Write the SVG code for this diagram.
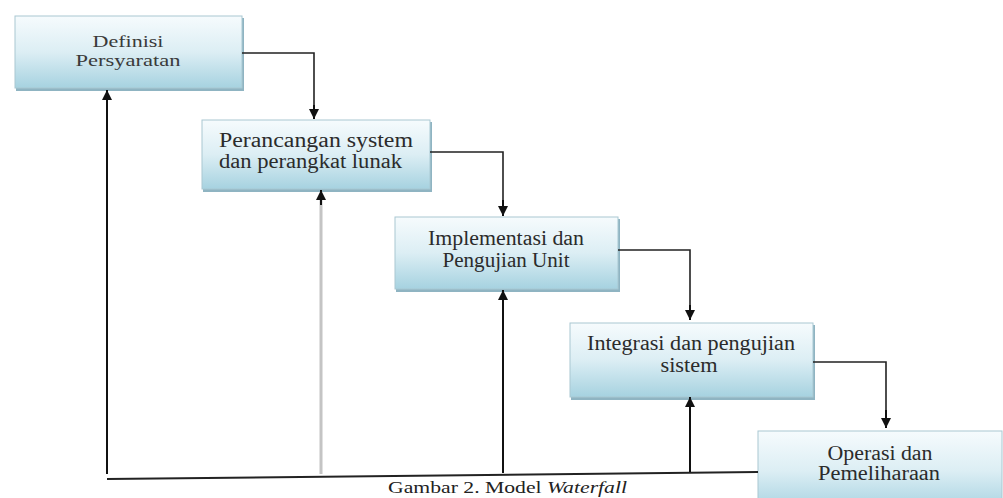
<svg xmlns="http://www.w3.org/2000/svg" width="1003" height="498" viewBox="0 0 1003 498">
<defs>
<linearGradient id="g" x1="0" y1="0" x2="0" y2="1">
<stop offset="0" stop-color="#f6fbfd"/>
<stop offset="0.5" stop-color="#dceef4"/>
<stop offset="1" stop-color="#a6d2e0"/>
</linearGradient>
<marker id="ah" viewBox="0 0 10 10" refX="10" refY="5" markerWidth="10" markerHeight="10" markerUnits="userSpaceOnUse" orient="auto">
<path d="M0,0 L10,5 L0,10 z" fill="#111"/>
</marker>
<style>
.box{fill:url(#g);stroke:#a9c8d2;stroke-width:1}
.sh{fill:#8fb4c2}
.t{font-family:"Liberation Serif","Times New Roman",serif;font-size:20px;fill:#2b2b2b}
.s{font-size:17px;fill:#3a3a3a}
.c{text-anchor:middle}
.ln{fill:none;stroke:#222;stroke-width:1.6}
.ar{fill:none;stroke:#111;stroke-width:2;marker-end:url(#ah)}
</style>
</defs>
<rect width="1003" height="498" fill="#fff"/>
<g id="n1">
<rect class="sh" x="16" y="18" width="228" height="73"/>
<rect class="box" x="15" y="16" width="227" height="72"/>
<text class="t s c" x="128" y="47" textLength="71" lengthAdjust="spacingAndGlyphs">Definisi</text>
<text class="t s c" x="128" y="66" textLength="105" lengthAdjust="spacingAndGlyphs">Persyaratan</text>
</g>
<g id="n2">
<rect class="sh" x="203" y="122" width="229" height="70"/>
<rect class="box" x="202" y="120" width="228" height="69"/>
<text class="t" x="219" y="147" textLength="194" lengthAdjust="spacingAndGlyphs">Perancangan system</text>
<text class="t" x="219" y="168" textLength="183" lengthAdjust="spacingAndGlyphs">dan perangkat lunak</text>
</g>
<g id="n3">
<rect class="sh" x="396" y="219" width="224" height="73"/>
<rect class="box" x="395" y="217" width="223" height="72"/>
<text class="t c" x="506" y="245" textLength="156" lengthAdjust="spacingAndGlyphs">Implementasi dan</text>
<text class="t c" x="506" y="267" textLength="127" lengthAdjust="spacingAndGlyphs">Pengujian Unit</text>
</g>
<g id="n4">
<rect class="sh" x="571" y="325" width="244" height="75"/>
<rect class="box" x="570" y="323" width="243" height="74"/>
<text class="t c" x="691" y="350" textLength="208" lengthAdjust="spacingAndGlyphs">Integrasi dan pengujian</text>
<text class="t c" x="689" y="372" textLength="57" lengthAdjust="spacingAndGlyphs">sistem</text>
</g>
<g id="n5">
<rect class="box" x="758" y="431" width="244" height="80"/>
<text class="t c" x="880" y="460" textLength="105" lengthAdjust="spacingAndGlyphs">Operasi dan</text>
<text class="t c" x="879" y="480" textLength="122" lengthAdjust="spacingAndGlyphs">Pemeliharaan</text>
</g>
<g id="connectors">
<polyline class="ln" points="242,53 314,53 314,110"/>
<line class="ar" x1="314" y1="105" x2="314" y2="119"/>
<polyline class="ln" points="430,152 503,152 503,208"/>
<line class="ar" x1="503" y1="200" x2="503" y2="216"/>
<polyline class="ln" points="618,250 690,250 690,310"/>
<line class="ar" x1="690" y1="305" x2="690" y2="320"/>
<polyline class="ln" points="813,362 886,362 886,418"/>
<line class="ar" x1="886" y1="410" x2="886" y2="428"/>
<line x1="107" y1="479" x2="758" y2="472" stroke="#222" stroke-width="2"/>
<line class="ar" x1="107" y1="474" x2="107" y2="90"/>
<line x1="321" y1="474" x2="321" y2="200" stroke="#c4c4c4" stroke-width="3"/>
<line class="ar" x1="321" y1="205" x2="321" y2="190" stroke-width="1.5"/>
<line class="ar" x1="503" y1="473" x2="503" y2="290"/>
<line class="ar" x1="690" y1="472" x2="690" y2="397"/>
</g>
<text x="388" y="493" font-family="'Liberation Serif','Times New Roman',serif" font-size="16" fill="#222" textLength="239" lengthAdjust="spacingAndGlyphs">Gambar 2. Model <tspan font-style="italic">Waterfall</tspan></text>
</svg>
